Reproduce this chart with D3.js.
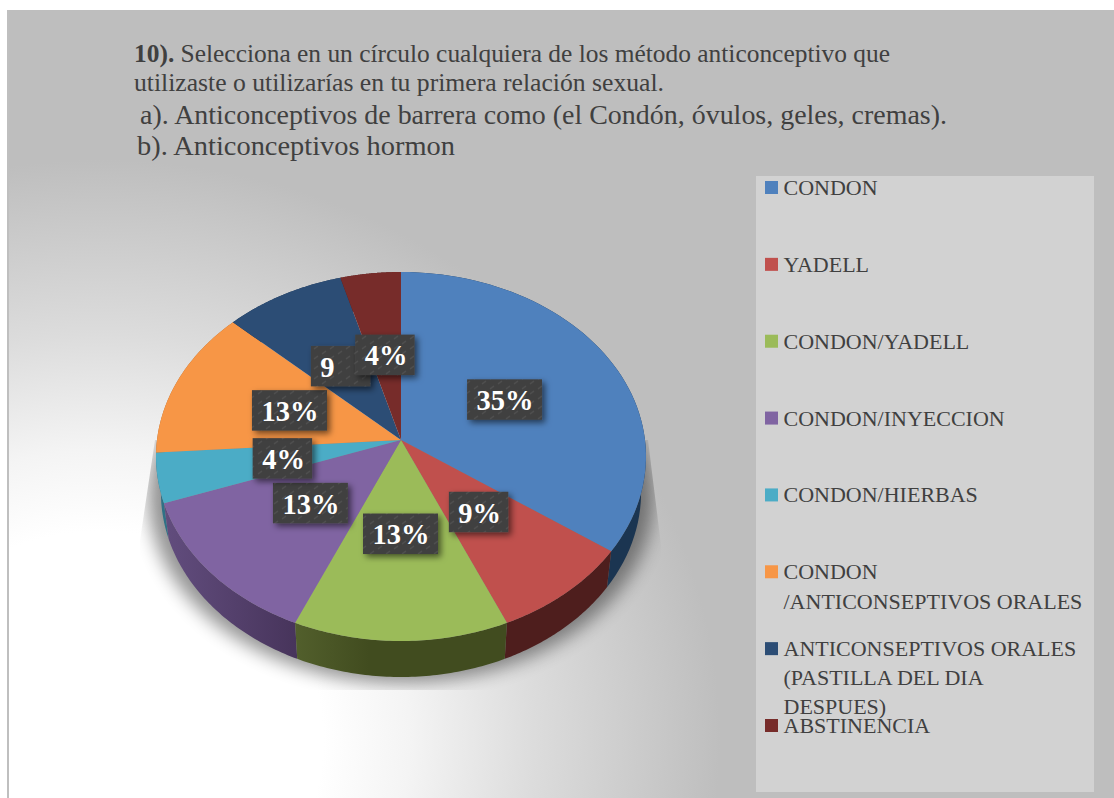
<!DOCTYPE html>
<html>
<head>
<meta charset="utf-8">
<script src="https://cdn.jsdelivr.net/npm/d3@7"></script>
<style>html,body{margin:0;padding:0;background:#fff;overflow:hidden}svg{display:block}text{font-family:"Liberation Serif",serif}</style>
</head>
<body>
<svg id="c" width="1114" height="798"></svg>
<script>
// Data
const categories = [
  "CONDON", "YADELL", "CONDON/YADELL", "CONDON/INYECCION", "CONDON/HIERBAS",
  "CONDON\n/ANTICONSEPTIVOS ORALES",
  "ANTICONSEPTIVOS ORALES\n(PASTILLA DEL DIA\nDESPUES)",
  "ABSTINENCIA"
];
const responses = [8, 2, 3, 3, 1, 3, 2, 1];
const dataLabels = ["35%", "9%", "13%", "13%", "4%", "13%", "9", "4%"];
const sliceColors = ["#4f81bd", "#c0504d", "#9bbb59", "#8064a2", "#4bacc6", "#f79646", "#2c4d75", "#772c2a"];
const wallLight = ["#1b3551", "#4e1e1d", "#525f2c", "#624d7e", "#2f7186", "#a5632c", "#1d3350", "#4f1d1c"];
const wallDark = ["#1b3551", "#4e1e1d", "#414c1f", "#47345b", "#2f7186", "#a5632c", "#1d3350", "#4f1d1c"];
const questionLines = [
  {x: 134, y: 62, w: 756, size: 25, parts: [["10).", true], [" Selecciona en un círculo cualquiera de los método anticonceptivo que", false]]},
  {x: 134, y: 91, w: 530, size: 25, parts: [["utilizaste o utilizarías en tu primera relación sexual.", false]]},
  {x: 140, y: 124, w: 807, size: 28, parts: [["a). Anticonceptivos de barrera como (el Condón, óvulos, geles, cremas).", false]]},
  {x: 137, y: 155, w: 318, size: 28, parts: [["b). Anticonceptivos hormon", false]]}
];

const svg = d3.select("#c");
const defs = svg.append("defs");

// Background
const bg = defs.append("radialGradient").attr("id", "bg").attr("gradientUnits", "userSpaceOnUse")
  .attr("cx", 0).attr("cy", 0).attr("r", 1)
  .attr("gradientTransform", "translate(100,740) scale(620,580)");
[[0, "#fff"], [.36, "#fff"], [.5, "#f4f4f4"], [.7, "#dcdcdc"], [1, "#bebebe"]].forEach(s =>
  bg.append("stop").attr("offset", s[0]).attr("stop-color", s[1]));
svg.append("rect").attr("x", 7).attr("y", 10).attr("width", 1107).attr("height", 788).attr("fill", "url(#bg)");
svg.append("rect").attr("x", 7).attr("y", 10).attr("width", 2).attr("height", 788).attr("fill", "#bfbfbf");

// Question text
const q = svg.append("g").attr("fill", "#404040");
questionLines.forEach(l => {
  const t = q.append("text").attr("x", l.x).attr("y", l.y).attr("font-size", l.size)
    .attr("textLength", l.w).attr("lengthAdjust", "spacingAndGlyphs");
  l.parts.forEach(p => t.append("tspan").attr("font-weight", p[1] ? "bold" : "normal").text(p[0]));
});

// Perspective projection of the pie disc
const cx = 401, cy = 440, A = 183, B = 244, k = 0.0894, depth = 36, bottomScale = 0.98;
function project(angle, r, lower) {
  const u = Math.sin(angle) * r, v = -Math.cos(angle) * r, d = 1 - k * v;
  const s = lower ? bottomScale : 1;
  return [cx + B * u / d * s, cy + A * v / d + (lower ? depth : 0)];
}
const arcs = d3.pie().sort(null).startAngle(0).endAngle(2 * Math.PI)(responses);
const line = d3.line();
const samples = a => d3.range(0, 61).map(i => a.startAngle + (a.endAngle - a.startAngle) * i / 60);

// Soft shadow
defs.append("filter").attr("id", "blur").attr("x", "-20%").attr("y", "-20%").attr("width", "140%").attr("height", "140%")
  .append("feGaussianBlur").attr("stdDeviation", 9);
defs.append("clipPath").attr("id", "shadowClip").append("path")
  .attr("d", line([[155, 440], [648, 440], [661, 545], [661, 690], [140, 690], [140, 540]]) + "Z");
const full = d3.range(0, 181).map(i => i / 180 * 2 * Math.PI);
svg.append("g").attr("clip-path", "url(#shadowClip)").append("path")
  .attr("d", line(full.map(a => { const p = project(a, 1, true); return [cx + (p[0] - cx) * 1.05, p[1] + 6]; })) + "Z")
  .attr("fill", "#000").attr("opacity", .42).attr("filter", "url(#blur)");

// Walls, far to near
const order = d3.range(arcs.length).sort((a, b) =>
  Math.abs(Math.PI - (arcs[b].startAngle + arcs[b].endAngle) / 2) - Math.abs(Math.PI - (arcs[a].startAngle + arcs[a].endAngle) / 2));
order.forEach(i => {
  const s = samples(arcs[i]);
  const top = s.map(a => project(a, 1, false));
  const low = s.map(a => project(a, 1, true)).reverse();
  const xs = d3.extent(top.concat(low), p => p[0]);
  const g = defs.append("linearGradient").attr("id", "wall" + i).attr("gradientUnits", "userSpaceOnUse")
    .attr("x1", xs[0]).attr("x2", xs[1]).attr("y1", 0).attr("y2", 0);
  g.append("stop").attr("offset", 0).attr("stop-color", wallLight[i]);
  g.append("stop").attr("offset", i === 2 ? .35 : 1).attr("stop-color", wallDark[i]);
  svg.append("path").attr("d", line(top.concat(low)) + "Z").attr("fill", "url(#wall" + i + ")");
});

// Top face
arcs.forEach((a, i) => {
  svg.append("path").attr("d", line([project(0, 0, false)].concat(samples(a).map(t => project(t, 1, false)))) + "Z")
    .attr("fill", sliceColors[i]);
});

// Data labels
const ds = defs.append("filter").attr("id", "lab").attr("x", "-30%").attr("y", "-30%").attr("width", "170%").attr("height", "170%");
ds.append("feDropShadow").attr("dx", 3).attr("dy", 3).attr("stdDeviation", 3).attr("flood-color", "#000").attr("flood-opacity", .55);
const pat = defs.append("pattern").attr("id", "tex").attr("patternUnits", "userSpaceOnUse").attr("width", 16).attr("height", 10);
pat.append("rect").attr("width", 16).attr("height", 10).attr("fill", "#414141");
pat.append("path").attr("d", "M2 4L6 1M10 9L14 6").attr("stroke", "#505050").attr("stroke-width", 1.2);
arcs.forEach((a, i) => {
  const p = project((a.startAngle + a.endAngle) / 2, 0.49, false);
  const w = dataLabels[i].length >= 3 ? 75 : 59.5, h = 40.5;
  const g = svg.append("g");
  g.append("rect").attr("x", p[0] - w / 2 - 0.5).attr("y", p[1] - h / 2).attr("width", w).attr("height", h)
    .attr("fill", "url(#tex)").attr("filter", "url(#lab)");
  g.append("text").attr("x", p[0] - w / 2 + 9).attr("y", p[1] + 10.5).attr("font-size", 28.5).attr("font-weight", "bold")
    .attr("fill", "#fff").text(dataLabels[i]);
});

// Legend
const legendY = d3.scaleLinear().domain([0, 7]).range([181, 719]);
svg.append("rect").attr("x", 756).attr("y", 176).attr("width", 338).attr("height", 616).attr("fill", "#d2d2d2");
const lg = svg.append("g");
categories.forEach((c, i) => {
  const y = legendY(i);
  lg.append("rect").attr("x", 765).attr("y", y).attr("width", 13).attr("height", 13).attr("fill", sliceColors[i]);
  const lead = c.split("\n").length === 2 ? 30 : 29;
  c.split("\n").forEach((t, j) => {
    lg.append("text").attr("x", 783.5).attr("y", y + 14 + j * lead).attr("font-size", 22).attr("fill", "#404040").text(t);
  });
});
</script>
</body>
</html>
